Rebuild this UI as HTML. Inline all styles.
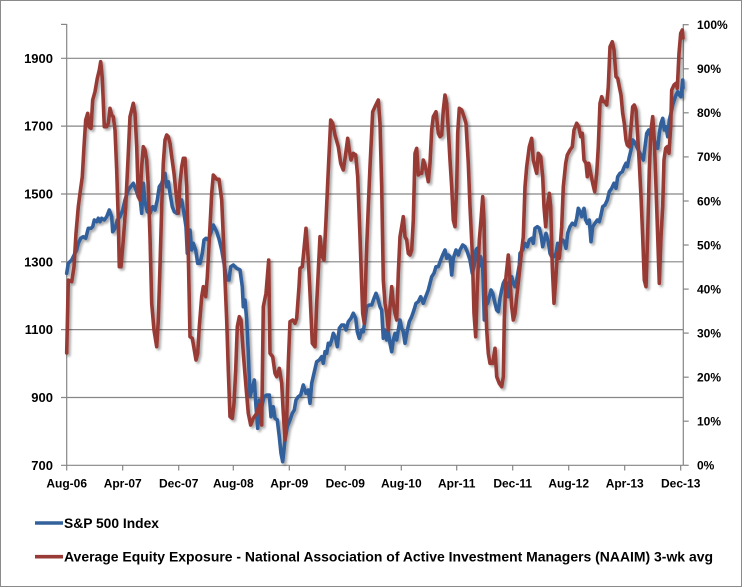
<!DOCTYPE html>
<html><head><meta charset="utf-8"><style>
html,body{margin:0;padding:0;background:#fff;}
svg{display:block;}
text{font-family:"Liberation Sans",Arial,sans-serif;font-weight:bold;fill:#000;}
</style></head><body>
<svg width="742" height="587" viewBox="0 0 742 587" xmlns="http://www.w3.org/2000/svg">
<defs>
<filter id="sh" x="-5%" y="-5%" width="110%" height="110%">
<feGaussianBlur in="SourceAlpha" stdDeviation="1.4" result="b"/>
<feOffset in="b" dx="2.2" dy="2.2" result="o"/>
<feComponentTransfer in="o" result="o2"><feFuncA type="linear" slope="0.35"/></feComponentTransfer>
<feMerge><feMergeNode in="o2"/><feMergeNode in="SourceGraphic"/></feMerge>
</filter>
</defs>
<rect x="0.5" y="0.5" width="741" height="586" fill="#fff" stroke="#8a8a8a" stroke-width="1"/>
<g stroke="#868686" stroke-width="1.2" fill="none">
<line x1="61" y1="58.3" x2="683.3" y2="58.3"/>
<line x1="61" y1="126.1" x2="683.3" y2="126.1"/>
<line x1="61" y1="194" x2="683.3" y2="194"/>
<line x1="61" y1="261.8" x2="683.3" y2="261.8"/>
<line x1="61" y1="329.6" x2="683.3" y2="329.6"/>
<line x1="61" y1="397.5" x2="683.3" y2="397.5"/>
<line x1="61" y1="465.3" x2="683.3" y2="465.3"/>
<line x1="61" y1="24.4" x2="66.7" y2="24.4"/>
<line x1="66.7" y1="24" x2="66.7" y2="465.3"/>
<line x1="683.3" y1="24" x2="683.3" y2="465.3"/>
<line x1="683.3" y1="24.7" x2="688.7" y2="24.7"/>
<line x1="683.3" y1="68.8" x2="688.7" y2="68.8"/>
<line x1="683.3" y1="112.8" x2="688.7" y2="112.8"/>
<line x1="683.3" y1="156.9" x2="688.7" y2="156.9"/>
<line x1="683.3" y1="201" x2="688.7" y2="201"/>
<line x1="683.3" y1="245" x2="688.7" y2="245"/>
<line x1="683.3" y1="289.1" x2="688.7" y2="289.1"/>
<line x1="683.3" y1="333.1" x2="688.7" y2="333.1"/>
<line x1="683.3" y1="377.2" x2="688.7" y2="377.2"/>
<line x1="683.3" y1="421.2" x2="688.7" y2="421.2"/>
<line x1="683.3" y1="465.3" x2="688.7" y2="465.3"/>
<line x1="66.7" y1="465.3" x2="66.7" y2="470.5"/>
<line x1="122.7" y1="465.3" x2="122.7" y2="470.5"/>
<line x1="178.7" y1="465.3" x2="178.7" y2="470.5"/>
<line x1="233.3" y1="465.3" x2="233.3" y2="470.5"/>
<line x1="289.3" y1="465.3" x2="289.3" y2="470.5"/>
<line x1="345.3" y1="465.3" x2="345.3" y2="470.5"/>
<line x1="401.3" y1="465.3" x2="401.3" y2="470.5"/>
<line x1="456.7" y1="465.3" x2="456.7" y2="470.5"/>
<line x1="512.7" y1="465.3" x2="512.7" y2="470.5"/>
<line x1="568.7" y1="465.3" x2="568.7" y2="470.5"/>
<line x1="624.7" y1="465.3" x2="624.7" y2="470.5"/>
<line x1="680.7" y1="465.3" x2="680.7" y2="470.5"/>
</g>
<g font-size="13" text-anchor="end">
<text x="53" y="62.8">1900</text>
<text x="53" y="130.6">1700</text>
<text x="53" y="198.5">1500</text>
<text x="53" y="266.3">1300</text>
<text x="53" y="334.1">1100</text>
<text x="53" y="402">900</text>
<text x="53" y="469.8">700</text>
</g>
<g font-size="12">
<text x="697" y="29">100%</text>
<text x="697" y="73.1">90%</text>
<text x="697" y="117.1">80%</text>
<text x="697" y="161.2">70%</text>
<text x="697" y="205.3">60%</text>
<text x="697" y="249.3">50%</text>
<text x="697" y="293.4">40%</text>
<text x="697" y="337.4">30%</text>
<text x="697" y="381.5">20%</text>
<text x="697" y="425.5">10%</text>
<text x="697" y="469.6">0%</text>
</g>
<g font-size="12" text-anchor="middle">
<text x="66.7" y="487.6">Aug-06</text>
<text x="122.7" y="487.6">Apr-07</text>
<text x="178.7" y="487.6">Dec-07</text>
<text x="233.3" y="487.6">Aug-08</text>
<text x="289.3" y="487.6">Apr-09</text>
<text x="345.3" y="487.6">Dec-09</text>
<text x="401.3" y="487.6">Aug-10</text>
<text x="456.7" y="487.6">Apr-11</text>
<text x="512.7" y="487.6">Dec-11</text>
<text x="568.7" y="487.6">Aug-12</text>
<text x="624.7" y="487.6">Apr-13</text>
<text x="680.7" y="487.6">Dec-13</text>
</g>
<g fill="none" stroke-width="3.6" stroke-linejoin="round" stroke-linecap="round" filter="url(#sh)">
<polyline stroke="#33619C" points="66.7,273.3 68.3,263.3 71.7,260 73.3,256.7 75,253.3 76.7,250 78.3,243.3 80.7,238.3 83.3,236.7 85.7,238.3 88.3,228.3 91,228.3 92.7,226.7 94.3,220 96.7,221.7 98.3,218.3 100,221.7 101.7,218.3 104.3,220 106.7,216.7 109.3,210 111.7,216.7 112.7,231.7 115,228.3 117.3,220 120,216.7 122.7,210 125,200 128.3,190 130.7,186.7 133.3,183.3 136,190 138.3,196.7 140,196.7 141.7,213.3 143.3,183.3 145,201.7 147.3,211.7 150,213.3 152.7,206.7 155,210 157.3,200 159.3,186.7 161.7,183.3 163.3,178.3 165,173.3 166.7,186.7 168.3,181.7 170,193.3 172.3,206.7 174.3,211.7 176.7,213.3 179.3,206.7 181.7,200 184,213.3 186,226.7 187.3,253.3 190,230 191.7,250 193.3,243.3 195.7,250 197.7,263.3 200,263.3 202.3,253.3 204,240 206,238.3 208.3,240 210.7,233.3 213.3,225 216.7,231.7 219.3,240 221.7,250 224,263.3 226.7,280 229,280 230.7,266.7 233.3,265 236.7,268.3 240,270 242.3,286.7 243.3,306.7 245,300 246.7,320 248.3,353.3 250,396.7 252.7,386.7 254.3,380 256,406.7 257.7,428.3 259.3,400 261.7,406.7 264,396.7 266.7,395 269.3,395 271,416.7 273.3,406.7 275,418.3 277.3,420 279.3,436.7 281,453.3 282.7,461.7 285,440 287.3,426.7 290,420 292.3,413.3 294.3,410 296,400 298.3,396.7 300.7,395 303.3,385 306,393.3 308.3,390 310,403.3 311.7,383.3 314,373.3 316.7,361.7 319.3,360 321.7,356.7 323.3,363.3 325,351.7 326.7,353.3 328.3,343.3 330,345 331.7,340 333.3,333.3 335.7,338.3 337.3,346.7 339.3,328.3 341.7,325 344,325 346,330 348.3,321.7 351,318.3 353.3,313.3 355.7,318.3 357.3,331.7 359.3,338.3 361.7,330 363.3,331.7 365,320 366.7,306.7 369.3,305 371.7,305 374,298.3 376,293.3 378.3,300 380,306.7 381.7,310 383.3,338.3 385,330 386.7,340 388.3,331.7 390,343.3 391.7,351.7 393.3,340 395,333.3 396.7,340 398.3,330 400,320 401.7,328.3 403.3,331.7 405,343.3 406.7,333.3 409.3,321.7 411.7,316.7 414,310 416,303.3 418.3,301.7 420.7,296.7 423.3,303.3 425.7,296.7 428.3,290 430,283.3 431.7,276.7 434,273.3 436,266.7 438.3,266.7 440.7,260 442.7,255 445,250 446.7,258.3 448.3,255 450,256.7 451.7,275 453.3,258.3 456,250 458.3,255 460,250 462.7,245 465,246.7 467.3,251.7 470,260 472.3,273.3 474,266.7 476,250 477.3,248.3 479,266.7 480.7,256.7 482.7,266.7 484.3,320 486,305 487.7,303.3 489.3,296.7 491,290 492.7,293.3 495,303.3 496.7,310 498.3,311.7 500,298.3 501.7,290 503.3,283.3 505,280 506.7,283.3 508.3,296.7 510,280 511.7,276.7 513.3,283.3 515,286.7 516.7,280 519.3,265 520,253.3 522.7,250 525,243.3 527.3,246.7 529.3,240 531.7,238.3 533.3,243.3 535,228.3 537.3,226.7 539.3,228.3 541,235 542.7,246.7 544.3,240 546,233.3 548.3,241.7 550,253.3 551.7,256.7 554,256.7 556,253.3 557.7,243.3 559.3,256.7 561,241.7 562.7,240 564.3,241.7 566,248.3 567.7,233.3 570,226.7 572.3,223.3 575,225 576.7,218.3 578.3,208.3 580,211.7 581.7,216.7 584,208.3 585.7,220 587.3,223.3 589.3,220 591,241.7 592.7,226.7 595,223.3 597.3,220 599.3,221.7 601,215 602.7,206.7 605,205 607.3,200 609.3,191.7 611.7,188.3 614,183.3 616,188.3 617.7,176.7 620,173.3 622.3,171.7 624.3,166.7 626,163.3 627.3,166.7 629,158.3 631,150 632.7,140 634.3,141.7 636,145 638.3,150 640,153.3 641.7,156.7 643.3,160 645,146.7 646.7,133.3 648.7,130 650.7,136.7 652.3,133.3 654.3,140 656,146.7 657.7,148.3 659.3,133.3 661,123.3 662.7,118.3 664.3,130 666,126.7 667.7,136.7 669.3,120 671,113.3 672.7,105 674.3,100 676,95 677.7,91.7 679.3,95 681,96.7 682.7,80 683,88"/>
<polyline stroke="#983A36" points="66.7,353 68.3,280 71.7,281.7 74,266.7 76,233.3 78.3,206.7 80,193.3 82.3,176.7 84,146.7 85.7,120 87.7,113.3 89,126.7 91,128.3 92.7,100 95,91.7 97.3,78.3 99.3,70 100.7,61.7 102.3,78.3 104.3,126.7 106.7,126.7 108.3,123.3 110,108.3 111.7,115 113.3,116.7 115,130 116.7,170 118.3,220 119.3,266.7 121,266.7 123.3,240 125.7,206.7 128.3,153.3 130,116.7 131.7,110 133.3,103.3 135,113.3 136.7,146.7 138.3,196.7 140,200 141.7,166.7 143.3,146.7 145,150 146.7,160 148.3,186.7 150,236.7 151.7,303.3 154,330 156.7,346.7 158.3,320 160,266.7 161.7,206.7 163.3,163.3 165,140 166.7,135 168.3,136.7 170,143.3 171.7,156.7 174,173.3 176.7,200 178.3,213.3 180,183.3 181.7,166.7 183.3,158.3 185,158.3 186.7,186.7 188.3,253.3 190,336.7 192.3,338.3 194.3,350 196,360 197.7,353.3 199.3,326.7 201.7,296.7 203.3,286.7 205.7,296.7 207.3,276.7 210,226.7 211.7,193.3 213.3,175 216.7,179.3 219,179.3 221.7,200 223.3,236.7 225,280 226.7,320 228.3,370 230,416.7 232.3,418.3 234,403.3 235.7,370 237.3,326.7 239.3,316.7 241,320 243.3,353.3 246,386.7 248.3,413.3 250.7,425 253.3,418.3 256.7,413.3 259.3,405 261.7,425 263.3,306.7 266,293.3 268.7,260 270,353.3 272.7,356.7 275,373.3 276.7,376.7 279.3,368.3 281.7,383.3 283.3,413.3 285,440 286.7,420 288.3,363.3 290,321.7 292.7,320 295,323.3 296.7,318.3 299,286.7 300,268.3 302.3,266.7 306,228.3 308.3,260 310,293.3 312.3,343.3 315,346.7 316.7,303.3 320,236.7 322.3,256.7 324,260 326,220 328.3,170 330.7,120 332.7,123.3 335,135 338.3,146.7 340.7,163.3 343.3,170 345.3,156.7 347.7,138.3 349.3,150 351,160 353.3,153.3 355.7,155 357.7,176.7 360,236.7 362.7,313.3 364.3,323.3 366.7,246.7 368.3,206.7 370,166.7 372.7,111.7 375,106.7 378.3,100 380,123.3 381.7,186.7 383.3,280 385,303.3 386.7,313.3 388.3,330 390,306.7 391.7,286.7 393.3,303.3 395,313.3 396.7,320 398.3,273.3 400,236.7 401.7,226.7 403.3,216.7 405,236.7 406.7,240 408.3,253.3 410,255 411.7,250 413.3,220 415,153.3 416.7,148.3 418.3,175 420,173.3 421.7,173.3 423.3,160 425,165 426.7,173.3 428.3,181.7 430,163.3 431.7,130 433.3,116.7 436,111.7 438.3,133.3 440,136.7 441.7,135 443.3,110 445,95 446.7,103.3 448.3,130 450,160 451.7,186.7 453.3,220 455,226.7 456.7,186.7 457.7,133.3 459.3,108.3 461.7,110 464,116.7 466,123.3 468.3,163.3 470,206.7 472.3,253.3 474,313.3 475.7,336.7 477.3,286.7 479.3,240 481,220 482.7,196.7 484,220 485.3,286.7 486.7,330 488.3,353.3 490,363.3 492.7,363.3 495,348.3 496.7,376.7 499.3,383.3 501.7,386.7 503.3,376.7 504.3,320 506,276.7 508.3,255 510,280 511.7,306.7 513.3,320 515,313.3 516.7,296.7 519.3,273.3 521.7,250 523.3,236.7 525,186.7 526.7,166.7 529.3,146.7 531.7,138.3 533.3,160 535,166.7 536.7,173.3 538.3,153.3 540.7,156.7 542.7,176.7 544,206.7 545.7,226.7 547.3,206.7 549.3,193.3 550.7,206.7 552.3,266.7 554,303.3 555.7,280 557.3,253.3 559.3,258.3 561.7,226.7 563.3,186.7 565.7,163.3 567.3,155 570,150 572.3,146.7 574,130 576.7,123.3 578.7,126.7 580.7,136.7 582.3,133.3 584,160 586,163.3 587.3,176.7 588.7,163.3 590.7,173.3 592.7,183.3 594.7,191.7 596.7,173.3 598.3,146.7 600,103.3 601.7,96.7 603.3,101.7 605,101.7 606.7,105 608.3,86.7 610,46.7 612.3,41.7 614,50 616,76.7 617.7,78.3 619.3,86.7 621,95 622.7,113.3 624.3,123.3 626,140 627.3,145 629.3,146.7 631,126.7 632.7,106.7 634.3,105 636,110 637.3,130 639.3,163.3 641,196.7 642.7,236.7 644.3,280 646,286.7 647.7,233.3 649.3,170 651,130 652.7,116.7 654.3,140 656,186.7 657.7,236.7 659.3,283.3 661,236.7 662.7,206.7 664,160 665.7,148.3 667.3,146.7 669,153.3 670.7,126.7 671.7,90 674,85 676,83.3 677.3,88.3 679,53.3 680.7,33.3 682.3,30 683,38"/>
</g>
<line x1="35" y1="523" x2="63" y2="523" stroke="#33619C" stroke-width="3.6"/>
<line x1="35" y1="556.7" x2="63" y2="556.7" stroke="#983A36" stroke-width="3.6"/>
<text x="64" y="527.8" font-size="13.5" textLength="95" lengthAdjust="spacingAndGlyphs">S&amp;P 500 Index</text>
<text x="64" y="561.5" font-size="13.5" textLength="649" lengthAdjust="spacingAndGlyphs">Average Equity Exposure - National Association of Active Investment Managers (NAAIM) 3-wk avg</text>
</svg>
</body></html>
